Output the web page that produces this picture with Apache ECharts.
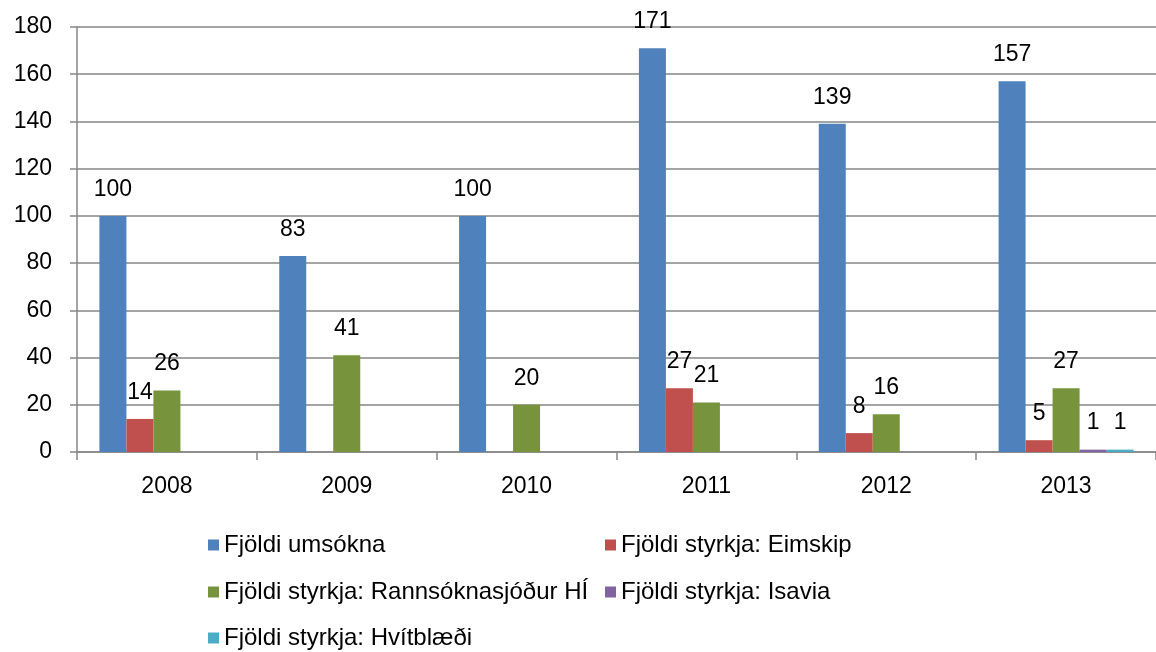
<!DOCTYPE html>
<html>
<head>
<meta charset="utf-8">
<script src="https://cdn.jsdelivr.net/npm/echarts@6/dist/echarts.min.js"></script>
<style>
  html, body { margin: 0; padding: 0; background: #fff; }
  #chart { width: 1156px; height: 652px; }
</style>
</head>
<body>
<div id="chart"></div>
<script>
// Gögn lesin af myndinni
var years = ['2008', '2009', '2010', '2011', '2012', '2013'];
var seriesNames = [
    'Fjöldi umsókna',
    'Fjöldi styrkja: Eimskip',
    'Fjöldi styrkja: Rannsóknasjóður HÍ',
    'Fjöldi styrkja: Isavia',
    'Fjöldi styrkja: Hvítblæði'
];
var umsoknir = [100, 83, 100, 171, 139, 157];
var eimskip = [14, '-', '-', 27, 8, 5];
var rannsoknasjodur = [26, 41, 20, 21, 16, 27];
var isavia = ['-', '-', '-', '-', '-', 1];
var hvitblaedi = ['-', '-', '-', '-', '-', 1];
var yTicks = { min: 0, max: 180, interval: 20 };

var colors = ['#4F81BD', '#C0504D', '#77933C', '#8064A2', '#4BACC6'];
var allValues = [umsoknir, eimskip, rannsoknasjodur, isavia, hvitblaedi];

var font = 'Liberation Sans';
var fontSize = 23;

var myChart = echarts.init(document.getElementById('chart'));

var series = seriesNames.map(function (name, i) {
    return {
        name: name,
        type: 'bar',
        data: allValues[i],
        barWidth: 27,
        barGap: '0%',
        itemStyle: { color: colors[i] },
        label: {
            show: true,
            position: 'top',
            distance: 15,
            color: '#000',
            fontFamily: font,
            fontSize: fontSize
        }
    };
});

// ein skýring á hverja færslu, tveir dálkar
var legendSpots = [[203, 528], [600, 528], [203, 575], [600, 575], [203, 621]];
var legends = seriesNames.map(function (name, i) {
    return {
        left: legendSpots[i][0],
        top: legendSpots[i][1],
        itemWidth: 11,
        itemHeight: 11,
        itemGap: 0,
        icon: 'rect',
        textStyle: { color: '#000', fontFamily: font, fontSize: 24 },
        data: [name]
    };
});

var option = {
    animation: false,
    color: colors,
    grid: { left: 77, right: 0, top: 27, bottom: 200, containLabel: false },
    legend: legends,
    xAxis: {
        type: 'category',
        data: years,
        axisLine: { lineStyle: { color: '#868686', width: 1.5 } },
        axisTick: { show: true, length: 8, lineStyle: { color: '#868686', width: 1.5 } },
        axisLabel: { color: '#000', fontFamily: font, fontSize: fontSize, margin: 23 }
    },
    yAxis: {
        type: 'value',
        min: yTicks.min,
        max: yTicks.max,
        interval: yTicks.interval,
        axisLine: { show: true, lineStyle: { color: '#868686', width: 1.5 } },
        axisTick: { show: true, length: 7, lineStyle: { color: '#868686', width: 1.5 } },
        axisLabel: { color: '#000', fontFamily: font, fontSize: fontSize, margin: 25 },
        splitLine: { lineStyle: { color: '#868686', width: 1.5 } }
    },
    series: series
};

myChart.setOption(option);

window.addEventListener('resize', function () {
    myChart.resize();
});
</script>
</body>
</html>
